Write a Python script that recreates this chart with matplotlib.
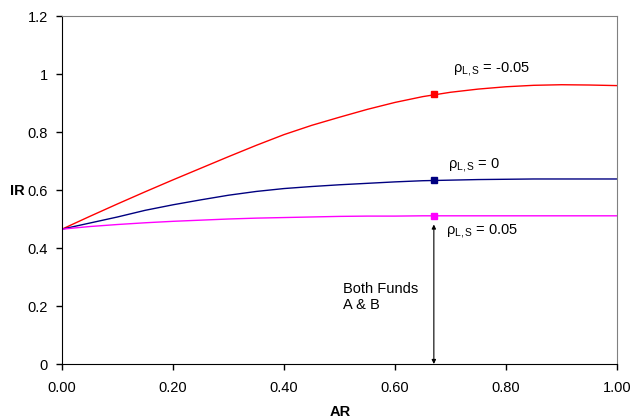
import matplotlib.pyplot as plt
from matplotlib.ticker import FormatStrFormatter

plt.rcParams['font.family'] = ['Liberation Sans', 'DejaVu Sans']
plt.rcParams['mathtext.fontset'] = 'custom'
plt.rcParams['mathtext.rm'] = 'Liberation Sans'
plt.rcParams['mathtext.it'] = 'Liberation Sans'
plt.rcParams['mathtext.sf'] = 'Liberation Sans'

# information ratio vs. active risk for three correlation levels
ar = [0.00, 0.05, 0.10, 0.15, 0.20, 0.25, 0.30, 0.35, 0.40, 0.45, 0.50,
      0.55, 0.60, 0.65, 0.70, 0.75, 0.80, 0.85, 0.90, 0.95, 1.00]
ir_neg = [0.465, 0.509, 0.552, 0.594, 0.635, 0.675, 0.715, 0.754, 0.791, 0.823, 0.851,
          0.878, 0.902, 0.922, 0.937, 0.948, 0.956, 0.961, 0.963, 0.962, 0.960]
ir_zero = [0.465, 0.486, 0.507, 0.530, 0.549, 0.566, 0.582, 0.595, 0.605, 0.612, 0.618,
           0.623, 0.628, 0.632, 0.634, 0.636, 0.637, 0.638, 0.638, 0.638, 0.638]
ir_pos = [0.465, 0.474, 0.481, 0.487, 0.492, 0.496, 0.500, 0.503, 0.505, 0.507, 0.509,
          0.510, 0.510, 0.511, 0.511, 0.511, 0.511, 0.511, 0.511, 0.511, 0.511]

# both funds sit at the same AR
fund_ar = 0.67
fund_ir = [0.930, 0.633, 0.511]
colors = ['#ff0000', '#000080', '#ff00ff']

fig = plt.figure(figsize=(6.33, 4.19), dpi=100)
ax = fig.add_axes([62 / 633, 1 - 364 / 419, 555 / 633, 348 / 419])

for ys, c, fy in zip([ir_neg, ir_zero, ir_pos], colors, fund_ir):
    ax.plot(ar, ys, color=c, lw=1.0)
    ax.plot([fund_ar], [fy], marker='s', ms=4.5, color=c, mec=c, ls='none')

ax.annotate('', xy=(fund_ar, 0.0), xytext=(fund_ar, fund_ir[2] - 0.03),
            arrowprops=dict(arrowstyle='<|-|>', color='black', lw=0.8,
                            mutation_scale=6, shrinkA=0, shrinkB=0))

fs = 10.5
ax.text(0.704, 1.016, r'$\rho_{L,S}$ = -0.05', fontsize=fs, va='center')
ax.text(0.695, 0.686, r'$\rho_{L,S}$ = 0', fontsize=fs, va='center')
ax.text(0.692, 0.459, r'$\rho_{L,S}$ = 0.05', fontsize=fs, va='center')
ax.text(0.506, 0.23, 'Both Funds\nA & B', fontsize=fs, va='center', linespacing=1.2)

ax.set_xlim(0, 1)
ax.set_ylim(0, 1.2)
ax.set_xticks([0, 0.2, 0.4, 0.6, 0.8, 1.0])
ax.set_yticks([0, 0.2, 0.4, 0.6, 0.8, 1.0, 1.2])
ax.set_yticklabels(['0', '0.2', '0.4', '0.6', '0.8', '1', '1.2'])
ax.xaxis.set_major_formatter(FormatStrFormatter('%.2f'))
ax.tick_params(direction='out', length=4, width=1, labelsize=fs)
ax.tick_params(axis='x', pad=8)
ax.tick_params(axis='y', pad=6)

ax.spines['top'].set_color('#808080')
ax.spines['right'].set_color('#808080')
ax.spines['left'].set_color('black')
ax.spines['bottom'].set_color('black')

fig.text(340 / 633, 1 - 412 / 419, 'AR', fontsize=fs, fontweight='bold',
         ha='center', va='center')
fig.text(10 / 633, 1 - 191 / 419, 'IR', fontsize=fs, fontweight='bold',
         ha='left', va='center')

fig.savefig('out.png', dpi=100)
